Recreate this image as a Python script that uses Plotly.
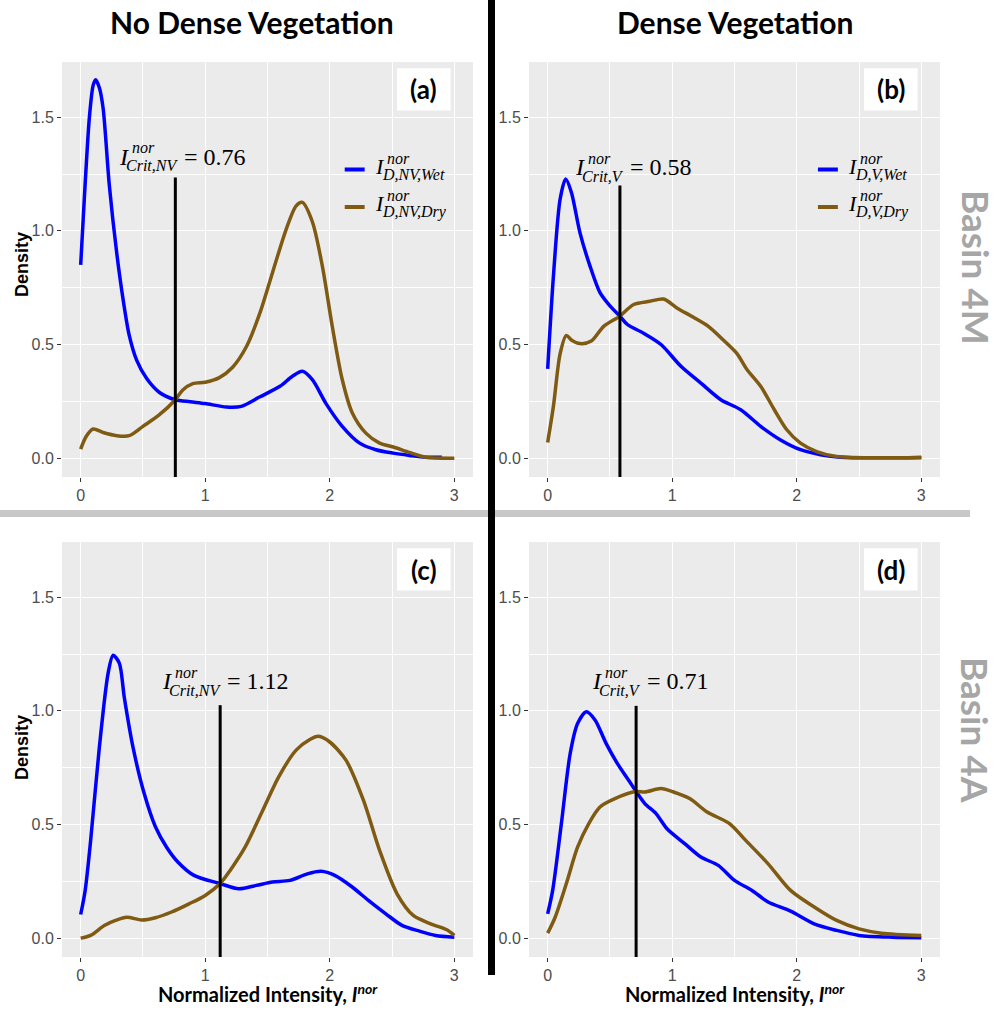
import plotly.graph_objects as go

# ---- density curves (normalized intensity vs density) ----
# (a) Basin 4M, no dense vegetation
A_WET_X = [0.00, 0.03, 0.07, 0.10, 0.12, 0.15, 0.18, 0.23, 0.29, 0.34, 0.39, 0.45, 0.53, 0.63,
           0.76, 0.88, 1.00, 1.17, 1.29, 1.44, 1.60, 1.70, 1.78, 1.86, 1.97, 2.10, 2.24, 2.37,
           2.51, 2.64, 2.77, 2.90]
A_WET_Y = [0.85, 1.15, 1.50, 1.64, 1.665, 1.63, 1.54, 1.20, 0.90, 0.70, 0.54, 0.43, 0.35, 0.29,
           0.257, 0.248, 0.24, 0.225, 0.228, 0.27, 0.316, 0.36, 0.382, 0.345, 0.24, 0.14, 0.066,
           0.037, 0.022, 0.012, 0.004, 0.004]
A_DRY_X = [0.00, 0.045, 0.10, 0.18, 0.29, 0.39, 0.50, 0.63, 0.76, 0.82, 0.90, 1.00, 1.11, 1.22,
           1.33, 1.44, 1.54, 1.65, 1.73, 1.78, 1.86, 1.94, 2.02, 2.10, 2.18, 2.29, 2.40, 2.51,
           2.64, 2.77, 3.00]
A_DRY_Y = [0.04, 0.096, 0.128, 0.113, 0.099, 0.099, 0.14, 0.19, 0.257, 0.30, 0.328, 0.334, 0.353,
           0.40, 0.49, 0.64, 0.816, 1.007, 1.11, 1.125, 1.04, 0.846, 0.58, 0.346, 0.20, 0.11,
           0.066, 0.049, 0.025, 0.004, 0.0]

# (b) Basin 4M, dense vegetation
B_WET_X = [0.00, 0.046, 0.10, 0.145, 0.19, 0.26, 0.34, 0.42, 0.50, 0.58, 0.64, 0.77, 0.91, 1.07,
           1.23, 1.39, 1.55, 1.71, 1.87, 2.03, 2.19, 2.35, 3.00]
B_WET_Y = [0.393, 0.80, 1.14, 1.228, 1.17, 0.99, 0.845, 0.728, 0.67, 0.625, 0.588, 0.55, 0.50,
           0.404, 0.33, 0.257, 0.213, 0.14, 0.08, 0.037, 0.015, 0.004, 0.003]
B_DRY_X = [0.00, 0.046, 0.10, 0.15, 0.19, 0.26, 0.35, 0.45, 0.58, 0.69, 0.82, 0.93, 1.04, 1.17,
           1.29, 1.41, 1.52, 1.60, 1.71, 1.82, 1.92, 2.03, 2.16, 2.32, 3.00]
B_DRY_Y = [0.069, 0.228, 0.46, 0.54, 0.52, 0.504, 0.515, 0.58, 0.625, 0.676, 0.69, 0.70, 0.66,
           0.62, 0.58, 0.52, 0.46, 0.39, 0.316, 0.213, 0.125, 0.066, 0.029, 0.007, 0.003]

# (c) Basin 4A, no dense vegetation
C_WET_X = [0.00, 0.036, 0.08, 0.15, 0.22, 0.26, 0.31, 0.35, 0.42, 0.51, 0.60, 0.69, 0.78, 0.91,
           1.12, 1.27, 1.41, 1.54, 1.68, 1.82, 1.93, 2.04, 2.18, 2.31, 2.45, 2.58, 2.72, 2.85, 3.00]
C_WET_Y = [0.104, 0.21, 0.43, 0.84, 1.165, 1.245, 1.21, 1.06, 0.84, 0.636, 0.49, 0.40, 0.335,
           0.276, 0.24, 0.217, 0.232, 0.247, 0.254, 0.283, 0.294, 0.276, 0.225, 0.166, 0.107,
           0.056, 0.031, 0.012, 0.004]
C_DRY_X = [0.00, 0.08, 0.19, 0.28, 0.37, 0.49, 0.60, 0.73, 0.87, 1.00, 1.12, 1.20, 1.32, 1.45,
           1.59, 1.73, 1.84, 1.91, 2.00, 2.13, 2.27, 2.40, 2.54, 2.67, 2.81, 2.94, 3.00]
C_DRY_Y = [0.0, 0.012, 0.056, 0.078, 0.092, 0.08, 0.09, 0.115, 0.151, 0.188, 0.24, 0.298, 0.40,
           0.548, 0.71, 0.827, 0.874, 0.888, 0.863, 0.783, 0.607, 0.386, 0.195, 0.10, 0.063,
           0.037, 0.012]

# (d) Basin 4A, dense vegetation
D_WET_X = [0.00, 0.04, 0.11, 0.18, 0.24, 0.31, 0.38, 0.47, 0.56, 0.65, 0.71, 0.78, 0.87, 0.96,
           1.10, 1.23, 1.37, 1.50, 1.64, 1.77, 1.95, 2.14, 2.32, 2.50, 2.77, 3.00]
D_WET_Y = [0.107, 0.21, 0.504, 0.81, 0.944, 0.996, 0.96, 0.856, 0.768, 0.695, 0.645, 0.592,
           0.548, 0.48, 0.416, 0.357, 0.32, 0.254, 0.21, 0.159, 0.119, 0.063, 0.034, 0.012,
           0.004, 0.002]
D_DRY_X = [0.00, 0.06, 0.15, 0.24, 0.33, 0.42, 0.54, 0.71, 0.78, 0.91, 1.01, 1.14, 1.28, 1.46,
           1.59, 1.77, 1.95, 2.14, 2.32, 2.50, 2.68, 3.00]
D_DRY_Y = [0.022, 0.092, 0.24, 0.40, 0.504, 0.577, 0.614, 0.645, 0.643, 0.658, 0.643, 0.614,
           0.555, 0.504, 0.43, 0.327, 0.21, 0.137, 0.078, 0.041, 0.022, 0.012]

# critical intensity thresholds and the height of their marker lines
CRIT_VALUES = [0.76, 0.58, 1.12, 0.71]
CRIT_LINE_TOP = [1.235, 1.20, 1.025, 1.022]
CRIT_SUBS = ["Crit,NV", "Crit,V", "Crit,NV", "Crit,V"]
PANEL_TAGS = ["(a)", "(b)", "(c)", "(d)"]
LEGEND_SUBS = [("D,NV,Wet", "D,NV,Dry"), ("D,V,Wet", "D,V,Dry"), None, None]

X_TICKS = [0, 1, 2, 3]
Y_TICKS = [0.0, 0.5, 1.0, 1.5]
Y_TICK_TEXT = ["0.0", "0.5", "1.0", "1.5"]

COL_TITLES = ["No Dense Vegetation", "Dense Vegetation"]
ROW_TITLES = ["Basin 4M", "Basin 4A"]

WET_COLOR = "#0000FF"
DRY_COLOR = "#7F5A12"
X_RANGE = [-0.15, 3.15]
Y_RANGE = [-0.083, 1.743]

W, H = 1003, 1012
# panel domains in pixels (left, right, top, bottom)
PANELS_PX = [(62, 473, 62, 477), (529, 940, 62, 477),
             (62, 473, 542, 957), (529, 940, 542, 957)]

curves = [(A_WET_X, A_WET_Y, A_DRY_X, A_DRY_Y),
          (B_WET_X, B_WET_Y, B_DRY_X, B_DRY_Y),
          (C_WET_X, C_WET_Y, C_DRY_X, C_DRY_Y),
          (D_WET_X, D_WET_Y, D_DRY_X, D_DRY_Y)]

# label anchors in data units: critical-value text (x, y)
CRIT_LABEL_POS = [(0.29, 1.325), (0.20, 1.28), (0.64, 1.13), (0.34, 1.13)]
CRIT_TAIL_SHIFT = [65, 55, 65, 55]

fig = go.Figure()
layout_axes = {}
shapes = []
annotations = []

SERIF = "Liberation Serif"
SANS = "Liberation Sans"
HEAD = "Lato"


def math_text(xref, yref, x, y, sup, sub, tail, main_size, small_size, tail_shift,
              sup_dx=13, sub_dx=7, sup_dy=9, sub_dy=-9):
    out = [dict(text="<i>I</i>", x=x, y=y, xref=xref, yref=yref, xanchor="left",
                yanchor="middle", showarrow=False,
                font=dict(family=SERIF, size=main_size, color="black"))]
    out.append(dict(text="<i>%s</i>" % sup, x=x, y=y, xref=xref, yref=yref, xanchor="left",
                    yanchor="middle", showarrow=False, xshift=sup_dx, yshift=sup_dy,
                    font=dict(family=SERIF, size=small_size, color="black")))
    out.append(dict(text="<i>%s</i>" % sub, x=x, y=y, xref=xref, yref=yref, xanchor="left",
                    yanchor="middle", showarrow=False, xshift=sub_dx, yshift=sub_dy,
                    font=dict(family=SERIF, size=small_size, color="black")))
    if tail:
        out.append(dict(text=tail, x=x, y=y, xref=xref, yref=yref, xanchor="left",
                        yanchor="middle", showarrow=False, xshift=tail_shift,
                        font=dict(family=SERIF, size=main_size, color="black")))
    return out


for i, (l, r, t, b) in enumerate(PANELS_PX):
    n = "" if i == 0 else str(i + 1)
    xa, ya = "x" + n, "y" + n
    layout_axes["xaxis" + n] = dict(
        domain=[l / W, r / W], anchor=ya, range=X_RANGE, tickvals=X_TICKS,
        ticks="outside", ticklen=4, tickcolor="#333333", tickwidth=1,
        showgrid=True, gridcolor="white", gridwidth=1.3, zeroline=False, showline=False,
        tickfont=dict(family=SANS, size=16, color="#4D4D4D"),
        minor=dict(dtick=0.5, tick0=0, showgrid=True, gridcolor="white", gridwidth=0.6),
        fixedrange=True)
    layout_axes["yaxis" + n] = dict(
        domain=[1 - b / H, 1 - t / H], anchor=xa, range=Y_RANGE, tickvals=Y_TICKS,
        ticktext=Y_TICK_TEXT, ticks="outside", ticklen=4, tickcolor="#333333", tickwidth=1,
        showgrid=True, gridcolor="white", gridwidth=1.3, zeroline=False, showline=False,
        tickfont=dict(family=SANS, size=16, color="#4D4D4D"),
        minor=dict(dtick=0.25, tick0=0, showgrid=True, gridcolor="white", gridwidth=0.6),
        fixedrange=True)

    # grey panel background
    shapes.append(dict(type="rect", xref=xa + " domain", yref=ya + " domain",
                       x0=0, x1=1, y0=0, y1=1, fillcolor="#EBEBEB", line=dict(width=0),
                       layer="below"))

    wx, wy, dx, dy = curves[i]
    fig.add_trace(go.Scatter(x=wx, y=wy, xaxis=xa, yaxis=ya, mode="lines",
                             line=dict(color=WET_COLOR, width=3.5, shape="spline", smoothing=0.8),
                             showlegend=False, hoverinfo="skip"))
    fig.add_trace(go.Scatter(x=dx, y=dy, xaxis=xa, yaxis=ya, mode="lines",
                             line=dict(color=DRY_COLOR, width=3.5, shape="spline", smoothing=0.8),
                             showlegend=False, hoverinfo="skip"))
    crit = CRIT_VALUES[i]
    fig.add_trace(go.Scatter(x=[crit, crit], y=[Y_RANGE[0], CRIT_LINE_TOP[i]], xaxis=xa,
                             yaxis=ya, mode="lines", line=dict(color="black", width=3),
                             showlegend=False, hoverinfo="skip"))

    # critical value label
    cx, cy = CRIT_LABEL_POS[i]
    annotations += math_text(xa, ya, cx, cy, "nor", CRIT_SUBS[i], "= %.2f" % crit, 24, 16,
                             CRIT_TAIL_SHIFT[i])

    # panel tag in a white box
    shapes.append(dict(type="rect", xref=xa, yref=ya, x0=2.54, x1=2.97, y0=1.53, y1=1.715,
                       fillcolor="white", line=dict(width=0)))
    annotations.append(dict(text="<b>%s</b>" % PANEL_TAGS[i], x=2.755, y=1.622, xref=xa,
                            yref=ya, showarrow=False, xanchor="center", yanchor="middle",
                            font=dict(family=HEAD, size=26, color="black")))

    # in-panel legend for the top row
    if LEGEND_SUBS[i]:
        lx0 = 2.12 if i == 0 else 2.17
        for k, (sub, col, ly) in enumerate(zip(LEGEND_SUBS[i], [WET_COLOR, DRY_COLOR],
                                               [1.27, 1.105])):
            shapes.append(dict(type="line", xref=xa, yref=ya, x0=lx0, x1=lx0 + 0.16,
                               y0=ly, y1=ly, line=dict(color=col, width=4)))
            annotations += math_text(xa, ya, lx0 + 0.225, ly + 0.015, "nor", sub, None, 22,
                                     16, 0, sup_dx=12, sub_dx=7, sup_dy=8, sub_dy=-8)

# column headings
for x_px, txt in zip([252, 735], COL_TITLES):
    annotations.append(dict(text="<b>%s</b>" % txt, x=x_px / W, y=1 - 22 / H, xref="paper",
                            yref="paper", showarrow=False, xanchor="center", yanchor="middle",
                            font=dict(family=HEAD, size=30, color="black")))

# row labels on the right
for y_px, txt in zip([267, 730], ROW_TITLES):
    annotations.append(dict(text="<b>%s</b>" % txt, x=976 / W, y=1 - y_px / H, xref="paper",
                            yref="paper", showarrow=False, textangle=90, xanchor="center",
                            yanchor="middle", font=dict(family=HEAD, size=37, color="#A6A6A6")))

# y-axis titles
for y_px in [265, 748]:
    annotations.append(dict(text="<b>Density</b>", x=22 / W, y=1 - y_px / H, xref="paper",
                            yref="paper", showarrow=False, textangle=-90, xanchor="center",
                            yanchor="middle", font=dict(family=SANS, size=18, color="black")))

# x-axis titles
for x_px in [268, 735]:
    annotations.append(dict(text="<b>Normalized Intensity, <i>I</i><sup><i>nor</i></sup></b>",
                            x=x_px / W, y=0, xref="paper", yref="paper", yshift=4,
                            showarrow=False, xanchor="center", yanchor="bottom",
                            font=dict(family=HEAD, size=20, color="black")))

# separators between rows and columns
shapes.append(dict(type="line", xref="paper", yref="paper", x0=0, x1=970 / W,
                   y0=1 - 513.5 / H, y1=1 - 513.5 / H, line=dict(color="#C8C8C8", width=7)))
shapes.append(dict(type="line", xref="paper", yref="paper", x0=491.5 / W, x1=491.5 / W,
                   y0=1, y1=1 - 975 / H, line=dict(color="black", width=7)))

fig.update_layout(width=W, height=H, margin=dict(l=0, r=0, t=0, b=0),
                  paper_bgcolor="white", plot_bgcolor="rgba(0,0,0,0)",
                  shapes=shapes, annotations=annotations, showlegend=False, **layout_axes)

fig.write_html("out.html", config={"displayModeBar": False})
